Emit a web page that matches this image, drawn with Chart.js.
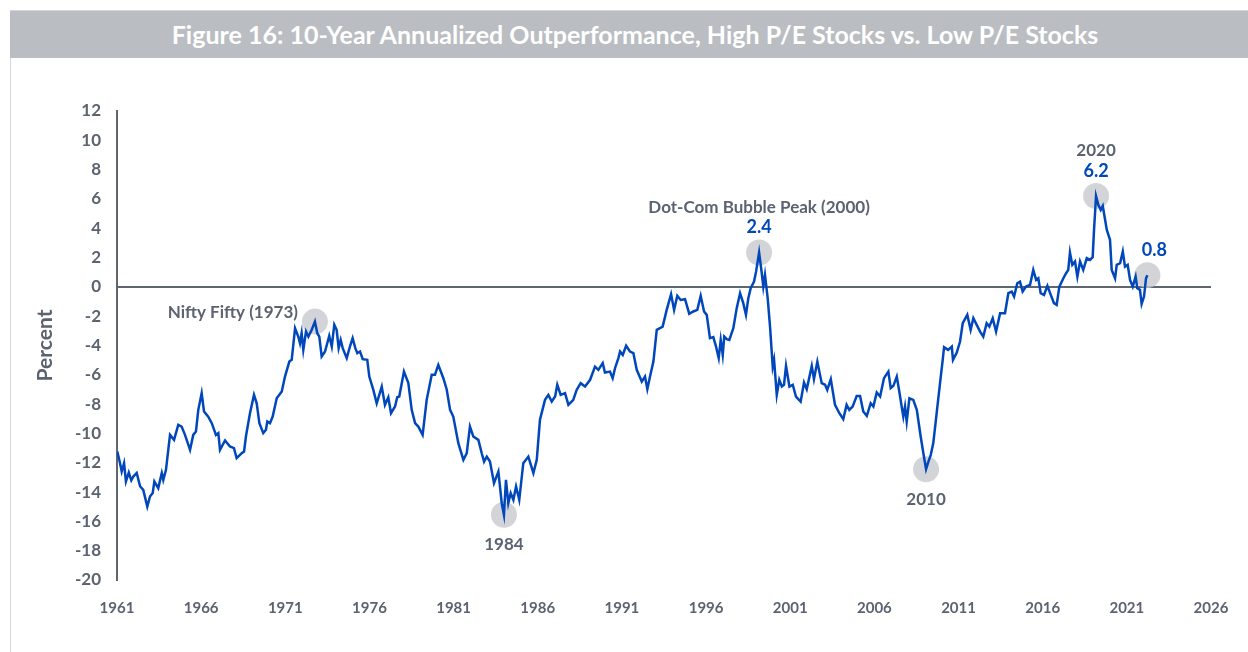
<!DOCTYPE html>
<html>
<head>
<meta charset="utf-8">
<script src="https://cdn.jsdelivr.net/npm/chart.js@4.4.0/dist/chart.umd.min.js"></script>
<style>
  body { margin: 0; background: #fff; }
  #wrap { position: relative; width: 1248px; height: 652px; overflow: hidden; }
  #panel { position: absolute; left: 10px; top: 10px; width: 1238px; height: 642px; border-left: 1px solid #d6d7da; border-top: 1px solid #d6d7da; box-sizing: border-box; }
  #title { position: absolute; left: 10px; top: 11px; width: 1238px; height: 47px; background: #babdc2; color: #fff;
           font: 700 25px Lato, sans-serif; text-align: center; line-height: 47px; padding-left: 12px; box-sizing: border-box; }
  canvas { position: absolute; left: 0; top: 0; }
</style>
</head>
<body>
<div id="wrap">
  <div id="panel"></div>
  <div id="title">Figure 16: 10-Year Annualized Outperformance, High P/E Stocks vs. Low P/E Stocks</div>
  <canvas id="myChart" width="1248" height="652"></canvas>
</div>
<script>
// monthly-ish readings, year (decimal) and percent
var years = [
  1961.02, 1961.18, 1961.28, 1961.42, 1961.53, 1961.70, 1961.85, 1961.97, 1962.17, 1962.37,
  1962.56, 1962.80, 1962.96, 1963.12, 1963.22, 1963.45, 1963.66, 1963.75, 1963.91, 1964.15,
  1964.39, 1964.64, 1964.84, 1965.04, 1965.34, 1965.53, 1965.69, 1965.83, 1966.03, 1966.17,
  1966.42, 1966.63, 1966.88, 1967.02, 1967.12, 1967.42, 1967.71, 1967.95, 1968.11, 1968.41,
  1968.55, 1968.66, 1968.90, 1969.14, 1969.30, 1969.46, 1969.69, 1969.85, 1969.93, 1970.09,
  1970.25, 1970.49, 1970.79, 1970.98, 1971.24, 1971.38, 1971.58, 1971.77, 1971.87, 1971.97,
  1972.07, 1972.23, 1972.37, 1972.57, 1972.76, 1972.90, 1973.02, 1973.16, 1973.36, 1973.61,
  1973.76, 1973.91, 1974.05, 1974.17, 1974.29, 1974.41, 1974.65, 1974.84, 1975.00, 1975.16,
  1975.28, 1975.44, 1975.60, 1975.87, 1975.99, 1976.23, 1976.43, 1976.73, 1976.92, 1977.12,
  1977.28, 1977.52, 1977.65, 1977.77, 1978.05, 1978.31, 1978.51, 1978.71, 1978.90, 1979.16,
  1979.40, 1979.70, 1979.89, 1980.09, 1980.39, 1980.59, 1980.79, 1980.98, 1981.28, 1981.58,
  1981.78, 1981.97, 1982.17, 1982.47, 1982.67, 1982.81, 1982.97, 1983.16, 1983.40, 1983.66,
  1983.86, 1983.99, 1984.11, 1984.25, 1984.39, 1984.55, 1984.71, 1984.90, 1985.14, 1985.44,
  1985.74, 1985.94, 1986.13, 1986.43, 1986.63, 1986.83, 1987.03, 1987.16, 1987.36, 1987.62,
  1987.82, 1988.11, 1988.31, 1988.55, 1988.81, 1989.11, 1989.40, 1989.60, 1989.86, 1989.99,
  1990.29, 1990.45, 1990.59, 1990.79, 1990.89, 1991.05, 1991.25, 1991.48, 1991.68, 1991.88,
  1992.18, 1992.37, 1992.51, 1992.67, 1992.87, 1993.07, 1993.26, 1993.42, 1993.66, 1993.92,
  1994.10, 1994.29, 1994.49, 1994.75, 1995.00, 1995.24, 1995.48, 1995.68, 1995.88, 1996.04,
  1996.23, 1996.43, 1996.59, 1996.75, 1996.87, 1996.99, 1997.08, 1997.23, 1997.38, 1997.62,
  1997.82, 1998.02, 1998.21, 1998.37, 1998.51, 1998.65, 1998.85, 1998.97, 1999.15, 1999.31,
  1999.40, 1999.50, 1999.66, 1999.80, 1999.96, 2000.04, 2000.20, 2000.35, 2000.50, 2000.63,
  2000.75, 2000.95, 2001.15, 2001.34, 2001.62, 2001.82, 2001.98, 2002.28, 2002.41, 2002.61,
  2002.87, 2003.07, 2003.20, 2003.41, 2003.66, 2003.92, 2004.15, 2004.35, 2004.51, 2004.71,
  2004.95, 2005.15, 2005.34, 2005.55, 2005.78, 2005.94, 2006.14, 2006.34, 2006.57, 2006.83,
  2006.97, 2007.13, 2007.33, 2007.48, 2007.62, 2007.72, 2007.82, 2007.92, 2008.08, 2008.31,
  2008.52, 2008.75, 2008.91, 2009.07, 2009.21, 2009.35, 2009.50, 2009.70, 2009.90, 2010.06,
  2010.14, 2010.38, 2010.60, 2010.67, 2010.89, 2011.09, 2011.25, 2011.52, 2011.72, 2011.88,
  2012.08, 2012.28, 2012.47, 2012.67, 2012.83, 2013.03, 2013.23, 2013.47, 2013.76, 2013.96,
  2014.16, 2014.30, 2014.49, 2014.65, 2014.81, 2015.01, 2015.25, 2015.44, 2015.61, 2015.74,
  2015.88, 2016.08, 2016.28, 2016.48, 2016.67, 2016.83, 2016.99, 2017.23, 2017.39, 2017.52,
  2017.62, 2017.76, 2017.92, 2018.06, 2018.22, 2018.41, 2018.62, 2018.81, 2018.97, 2019.05,
  2019.17, 2019.31, 2019.45, 2019.57, 2019.81, 2020.00, 2020.10, 2020.30, 2020.40, 2020.60,
  2020.76, 2020.89, 2021.05, 2021.19, 2021.35, 2021.52, 2021.62, 2021.78, 2021.88, 2022.02,
  2022.14, 2022.22
];
var values = [
  -11.23, -12.03, -12.6, -12.03, -13.28, -12.67, -13.2, -12.94, -12.7, -13.6,
  -13.85, -14.99, -14.3, -14.07, -13.28, -13.73, -12.71, -13.17, -12.48, -10.1,
  -10.44, -9.41, -9.53, -10.1, -11.12, -10.1, -9.87, -8.39, -7.25, -8.5,
  -8.85, -9.3, -10.1, -9.98, -11.12, -10.48, -10.89, -11.0, -11.69, -11.35,
  -11.23, -10.21, -8.62, -7.37, -7.94, -9.3, -9.98, -9.75, -9.19, -9.3,
  -8.85, -7.6, -7.14, -6.12, -5.1, -4.98, -2.82, -3.39, -3.84, -3.16,
  -4.3, -3.05, -3.39, -2.93, -2.37, -3.16, -3.39, -4.75, -4.41, -3.34,
  -4.07, -2.59, -2.93, -4.18, -3.62, -4.18, -4.86, -4.07, -3.5, -4.18,
  -4.52, -4.41, -4.93, -4.98, -6.12, -7.03, -7.94, -6.8, -8.05, -7.53,
  -8.62, -8.16, -7.53, -7.48, -5.78, -6.57, -8.39, -9.3, -9.53, -10.1,
  -7.71, -6.0, -6.0, -5.32, -6.23, -7.0, -8.39, -8.85, -10.66, -11.8,
  -11.35, -9.53, -10.21, -10.44, -11.35, -11.92, -11.58, -11.92, -13.39, -12.6,
  -14.76, -15.55, -13.17, -14.76, -14.07, -14.53, -13.62, -14.53, -12.03, -11.58,
  -12.71, -11.8, -9.07, -7.71, -7.37, -7.82, -7.48, -6.68, -7.37, -7.25,
  -8.05, -7.71, -7.03, -6.57, -6.8, -6.34, -5.44, -5.66, -5.2, -5.84,
  -5.78, -6.23, -5.55, -4.86, -4.41, -4.64, -4.02, -4.41, -4.52, -5.66,
  -6.46, -6.12, -6.98, -6.12, -5.1, -2.93, -2.82, -2.71, -1.57, -0.5,
  -1.57, -0.61, -0.89, -0.84, -1.84, -1.68, -1.57, -0.61, -1.68, -1.91,
  -3.5, -3.43, -4.07, -4.86, -3.62, -4.64, -3.39, -3.57, -3.62, -2.82,
  -1.45, -0.43, -1.11, -1.91, -0.77, -0.09, 0.36, 1.04, 2.35, 0.93,
  0.02, 0.82, -0.77, -2.71, -5.44, -4.98, -7.37, -6.34, -6.8, -6.68,
  -5.39, -6.8, -6.68, -7.48, -7.82, -6.53, -6.98, -5.39, -6.3, -5.1,
  -6.57, -6.68, -7.03, -6.3, -8.05, -8.62, -9.03, -8.05, -8.39, -8.16,
  -7.44, -7.44, -8.5, -8.8, -7.94, -8.16, -7.21, -7.48, -6.23, -5.78,
  -6.91, -6.75, -6.12, -7.14, -8.16, -8.85, -8.16, -9.19, -7.6, -7.71,
  -8.39, -10.21, -11.35, -12.44, -11.92, -11.46, -10.66, -8.62, -6.57, -4.98,
  -4.11, -4.3, -4.07, -4.98, -4.5, -3.73, -2.48, -1.91, -2.93, -2.14,
  -2.59, -3.05, -3.39, -2.48, -2.71, -2.14, -3.05, -1.8, -1.8, -0.43,
  -0.32, -0.66, 0.25, 0.36, -0.32, 0.02, 0.14, 1.16, 0.48, 0.59,
  -0.43, -0.55, 0.07, -0.55, -1.11, -1.23, 0.02, 0.59, 0.93, 1.16,
  2.34, 1.5, 1.73, 0.7, 1.73, 1.16, 1.96, 1.84, 2.03, 3.89,
  6.2, 5.59, 5.25, 5.52, 3.89, 3.21, 1.16, 0.59, 1.5, 1.62,
  2.41, 1.38, 1.5, 0.48, 0.02, 0.7, -0.09, -0.2, -1.16, -0.66,
  0.59, 0.8
];

// callouts: point on the line, grey label, blue value
var calloutX = [1972.76, 1983.99, 1999.15, 2009.07, 2019.17, 2022.22];
var calloutY = [-2.37, -15.55, 2.35, -12.44, 6.2, 0.8];
var calloutLabel = ["Nifty Fifty (1973)", "1984", "Dot-Com Bubble Peak (2000)", "2010", "2020", ""];
var calloutValue = ["", "", "2.4", "", "6.2", "0.8"];
var calloutSide = ["left", "below", "above", "below", "above", "above"];

var xTicks = [1961, 1966, 1971, 1976, 1981, 1986, 1991, 1996, 2001, 2006, 2011, 2016, 2021, 2026];

var GREY = "#5b6370";
var BLUE = "#0047bb";
var FONT = "Lato, sans-serif";

var points = years.map(function (y, i) { return { x: y, y: values[i] } });

var callouts = {
  id: "callouts",
  beforeDatasetsDraw: function (chart) {
    var c = chart.ctx, xs = chart.scales.x, ys = chart.scales.y;
    c.save();
    c.fillStyle = "rgba(200, 201, 206, 0.8)";
    calloutX.forEach(function (x, i) {
      c.beginPath();
      c.arc(xs.getPixelForValue(x), ys.getPixelForValue(calloutY[i]), 13, 0, Math.PI * 2);
      c.fill();
    });
    c.restore();
  },
  afterDatasetsDraw: function (chart) {
    var c = chart.ctx, xs = chart.scales.x, ys = chart.scales.y;
    c.save();
    c.textBaseline = "middle";
    calloutX.forEach(function (x, i) {
      var px = xs.getPixelForValue(x), py = ys.getPixelForValue(calloutY[i]);
      var side = calloutSide[i];
      c.font = "bold 17px " + FONT;
      c.fillStyle = GREY;
      if (side === "left") {
        c.textAlign = "right";
        c.fillText(calloutLabel[i], px - 17, py - 9);
      } else if (side === "below") {
        c.textAlign = "center";
        c.fillText(calloutLabel[i], px, py + 30);
      } else {
        c.textAlign = "center";
        var lift = calloutValue[i] ? 45 : 27;
        if (calloutLabel[i]) c.fillText(calloutLabel[i], px, py - lift);
        if (calloutValue[i]) {
          c.font = "bold 18px " + FONT;
          c.fillStyle = BLUE;
          var dx = calloutLabel[i] ? 0 : 7;
          c.fillText(calloutValue[i], px + dx, py - 25);
        }
      }
    });
    c.restore();
  }
};

var ctx = document.getElementById("myChart").getContext("2d");
var chart = new Chart(ctx, {
  type: "line",
  data: {
    datasets: [{
      data: points,
      borderColor: BLUE,
      borderWidth: 2.5,
      pointRadius: 0,
      tension: 0,
      fill: false
    }]
  },
  options: {
    responsive: false,
    animation: false,
    events: [],
    layout: { padding: { top: 111, right: 37, bottom: 32, left: 0 } },
    plugins: { legend: { display: false }, tooltip: { enabled: false } },
    scales: {
      x: {
        type: "linear",
        min: 1961,
        max: 2026,
        afterBuildTicks: function (scale) {
          scale.ticks = xTicks.map(function (v) { return { value: v } });
        },
        afterFit: function (scale) { scale.height = 40 },
        grid: { display: false, drawTicks: false },
        border: { display: false },
        ticks: {
          autoSkip: false,
          maxRotation: 0,
          padding: 19,
          color: GREY,
          font: { family: FONT, size: 15, weight: "bold" },
          callback: function (v) { return String(v) }
        }
      },
      y: {
        min: -20,
        max: 12,
        afterFit: function (scale) { scale.width = 117 },
        grid: {
          drawTicks: false,
          lineWidth: 2,
          color: function (c) { return c.tick && c.tick.value === 0 ? "#5f6670" : "rgba(0,0,0,0)" }
        },
        border: { display: true, color: "#5f6670", width: 2 },
        ticks: {
          stepSize: 2,
          padding: 16,
          color: GREY,
          font: { family: FONT, size: 17, weight: "bold" }
        },
        title: {
          display: true,
          text: "Percent",
          color: GREY,
          padding: { top: 33, bottom: 0 },
          font: { family: FONT, size: 21, weight: "bold" }
        }
      }
    }
  },
  plugins: [callouts]
});
</script>
</body>
</html>
